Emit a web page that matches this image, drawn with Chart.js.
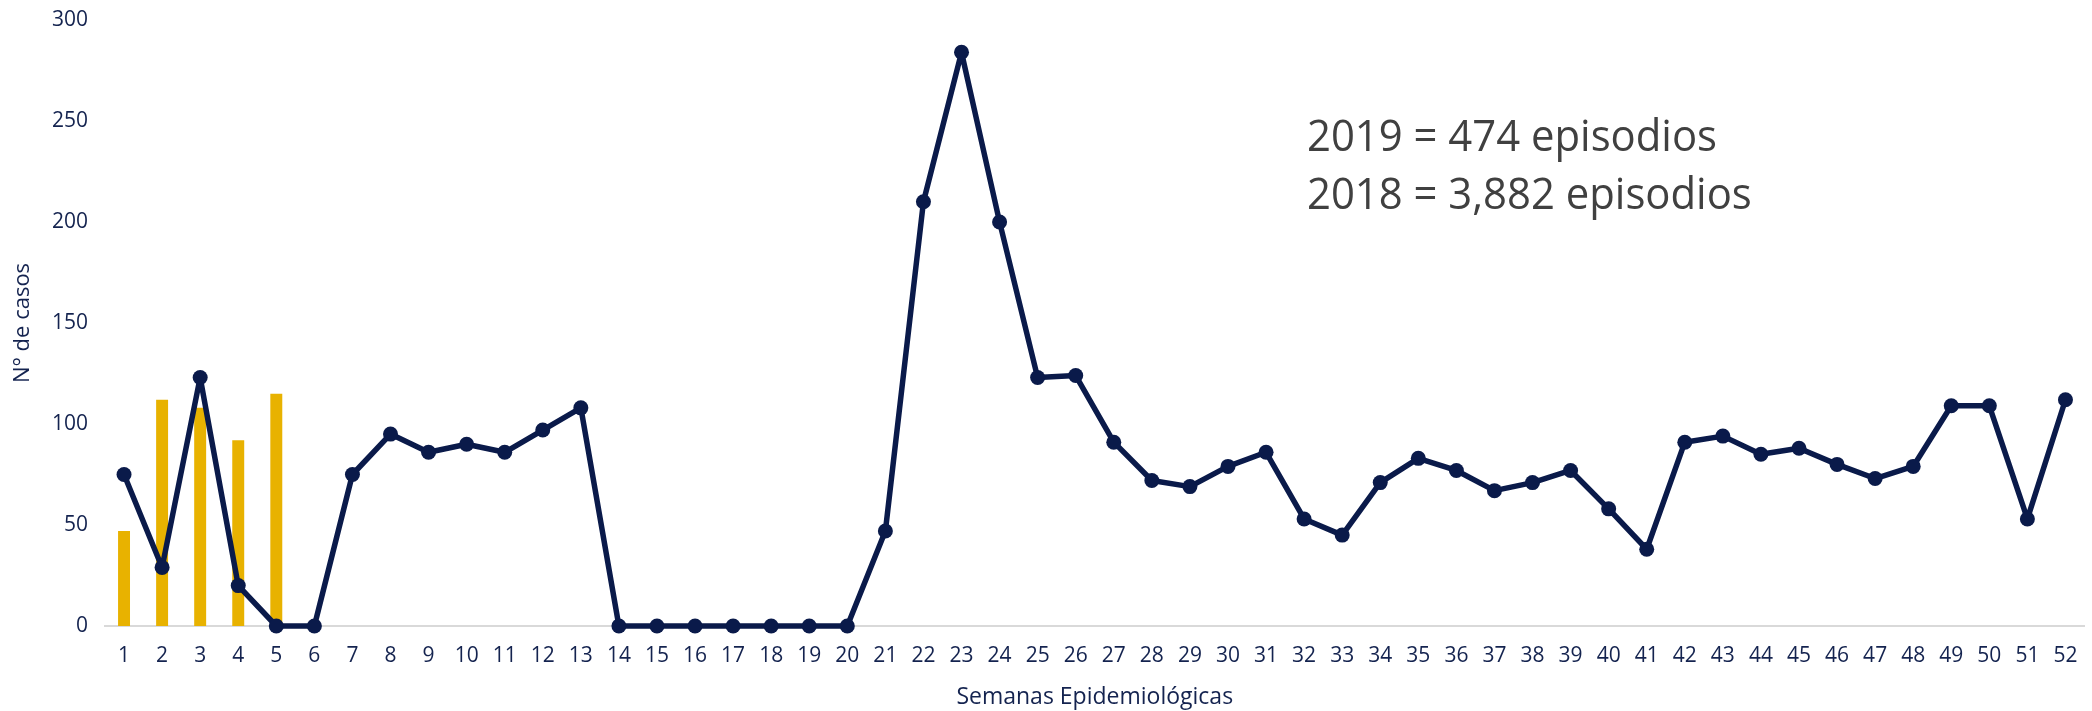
<!DOCTYPE html>
<html>
<head>
<meta charset="utf-8">
<script src="https://cdn.jsdelivr.net/npm/chart.js@4/dist/chart.umd.min.js"></script>
<style>
  html, body { margin: 0; padding: 0; background: #ffffff; }
  #wrap { width: 2092px; height: 711px; }
</style>
</head>
<body>
<div id="wrap"><canvas id="c" width="2092" height="711"></canvas></div>
<script>
// ---- Data ----
const semanas = ["1","2","3","4","5","6","7","8","9","10","11","12","13","14","15","16","17","18","19","20","21","22","23","24","25","26","27","28","29","30","31","32","33","34","35","36","37","38","39","40","41","42","43","44","45","46","47","48","49","50","51","52"];
const episodios2019 = [47, 112, 108, 92, 115];
const episodios2018 = [75, 29, 123, 20, 0, 0, 75, 95, 86, 90, 86, 97, 108, 0, 0, 0, 0, 0, 0, 0, 47, 210, 284, 200, 123, 124, 91, 72, 69, 79, 86, 53, 45, 71, 83, 77, 67, 71, 77, 58, 38, 91, 94, 85, 88, 80, 73, 79, 109, 109, 53, 112];
const yTicks = [0, 50, 100, 150, 200, 250, 300];
const notas = ["2019 = 474 episodios", "2018 = 3,882 episodios"];
const tituloX = "Semanas Epidemiológicas";
const tituloY = "N° de casos";

const NAVY = "#0a1a4a";
const TEXT = "#14234f";
const GOLD = "#e8b200";

const notePlugin = {
  id: 'notes',
  afterDraw(chart) {
    const ctx = chart.ctx;
    ctx.save();
    ctx.font = '44px "Open Sans", sans-serif';
    ctx.fillStyle = '#404040';
    ctx.textBaseline = 'alphabetic';
    const w = ctx.measureText(notas[0]).width;
    const sx = 410 / w;
    const baselines = [151, 209];
    notas.forEach((t, i) => {
      ctx.save();
      ctx.translate(1307, baselines[i]);
      ctx.scale(sx, 1);
      ctx.fillText(t, 0, 0);
      ctx.restore();
    });
    ctx.restore();
  }
};

new Chart(document.getElementById('c'), {
  data: {
    labels: semanas,
    datasets: [
      {
        type: 'line',
        label: '2018',
        data: episodios2018,
        borderColor: NAVY,
        backgroundColor: NAVY,
        borderWidth: 5.5,
        borderJoinStyle: 'round',
        borderCapStyle: 'round',
        pointRadius: 7.5,
        pointBackgroundColor: NAVY,
        pointBorderWidth: 0,
        tension: 0,
        clip: false,
        order: 0
      },
      {
        type: 'bar',
        label: '2019',
        data: episodios2019,
        backgroundColor: GOLD,
        borderWidth: 0,
        barPercentage: 0.314,
        categoryPercentage: 1.0,
        order: 1
      }
    ]
  },
  options: {
    responsive: false,
    devicePixelRatio: 1,
    animation: false,
    layout: { padding: { top: 20, right: 1, left: 0, bottom: 0 } },
    plugins: {
      legend: { display: false },
      tooltip: { enabled: false }
    },
    scales: {
      x: {
        type: 'category',
        offset: true,
        grid: { display: false, drawTicks: false },
        border: { display: true, color: '#d9d9d9', width: 2 },
        ticks: {
          color: TEXT,
          font: { family: '"Open Sans", sans-serif', size: 21 },
          padding: 17,
          maxRotation: 0,
          autoSkip: false
        },
        title: {
          display: true,
          text: tituloX,
          color: TEXT,
          font: { family: '"Open Sans", sans-serif', size: 23 },
          padding: { top: 0, bottom: 0 }
        },
        afterFit(scale) {
          scale.height = 85;
          scale.paddingLeft = 0;
          scale.paddingRight = 0;
        }
      },
      y: {
        min: 0,
        max: 300,
        grid: { display: false, drawTicks: false },
        border: { display: false },
        afterBuildTicks(scale) { scale.ticks = yTicks.map(v => ({ value: v })); },
        ticks: {
          color: TEXT,
          font: { family: '"Open Sans", sans-serif', size: 21 },
          padding: 17
        },
        title: {
          display: true,
          text: tituloY,
          color: TEXT,
          font: { family: '"Open Sans", sans-serif', size: 22 },
          padding: { top: 10, bottom: 0 }
        },
        afterFit(scale) {
          scale.width = 105;
          scale.paddingTop = 0;
          scale.paddingBottom = 0;
        }
      }
    }
  },
  plugins: [notePlugin]
});
</script>
</body>
</html>
